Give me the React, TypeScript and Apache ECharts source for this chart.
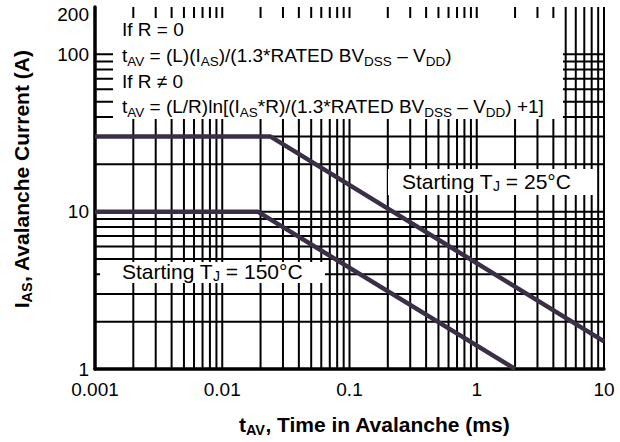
import React, { useEffect, useRef } from 'react';
import * as echarts from 'echarts';

// ---- data ----
const xTickLabels = ['0.001', '0.01', '0.1', '1', '10'];
const yTickLabels = ['1', '10', '100', '200'];

const xGridLines = [
  0.002, 0.003, 0.004, 0.005, 0.006, 0.007, 0.008, 0.009,
  0.01, 0.02, 0.03, 0.04, 0.05, 0.06, 0.07, 0.08, 0.09,
  0.1, 0.2, 0.3, 0.4, 0.5, 0.6, 0.7, 0.8, 0.9,
  1, 2, 3, 4, 5, 6, 7, 8, 9, 10,
];
const yGridLines = [2, 3, 4, 5, 6, 7, 8, 9, 10, 20, 30, 40, 50, 60, 70, 80, 90, 100];

const tj25Time = [0.001, 0.024, 10];
const tj25Current = [30, 30, 1.5];
const tj150Time = [0.001, 0.019, 2];
const tj150Current = [10, 10, 1];

const X_MIN = 0.001;
const X_MAX = 10;
const Y_MIN = 1;
const Y_MAX = 200;

const FONT = '"Liberation Sans", Arial, Helvetica, sans-serif';
const CURVE = '#3b2e47';

const fmt = (v: number) => String(parseFloat(Number(v).toPrecision(3)));

function richStyles(main: number, sub: number, lh: number, bold = false) {
  const w = bold ? 'bold' : 'normal';
  return {
    n: { fontSize: main, fontFamily: FONT, fontWeight: w, color: '#000', verticalAlign: 'top', lineHeight: lh },
    s: { fontSize: sub, fontFamily: FONT, fontWeight: w, color: '#000', verticalAlign: 'bottom', lineHeight: lh },
  };
}

export default function App() {
  const ref = useRef<HTMLDivElement>(null);

  useEffect(() => {
    if (!ref.current) return;
    const chart = echarts.init(ref.current, undefined, { renderer: 'svg' });

    const boxText = (text: string, x: number, y: number) => ({
      type: 'text',
      x,
      y,
      z: 6,
      silent: true,
      style: {
        text,
        verticalAlign: 'top',
        align: 'left',
        rich: richStyles(19, 13.5, 22.5),
      },
    });
    const labelText = (text: string, x: number, y: number) => ({
      type: 'text',
      x,
      y,
      z: 6,
      silent: true,
      style: {
        text,
        verticalAlign: 'top',
        align: 'left',
        rich: richStyles(21, 14, 22.5),
      },
    });
    const whiteRect = (x: number, y: number, w: number, h: number) => ({
      type: 'rect',
      z: 3,
      silent: true,
      shape: { x, y, width: w, height: h },
      style: { fill: '#fff' },
    });

    chart.setOption({
      animation: false,
      grid: { left: 95, right: 16, top: 7, bottom: 72, containLabel: false },
      xAxis: {
        type: 'log',
        logBase: 10,
        min: X_MIN,
        max: X_MAX,
        axisLine: { show: true, lineStyle: { color: '#000', width: 3.5 } },
        axisTick: { show: false },
        splitLine: { show: false },
        minorSplitLine: { show: false },
        axisLabel: {
          fontSize: 19,
          fontFamily: FONT,
          color: '#000',
          margin: 11,
          formatter: (v: number) => {
            const s = fmt(v);
            return xTickLabels.includes(s) ? s : '';
          },
        },
        name: '{n|t}{s|AV}{n|, Time in Avalanche (ms)}',
        nameLocation: 'middle',
        nameGap: 45,
        nameTextStyle: {
          padding: [0, 0, 0, 50],
          rich: richStyles(21, 14.5, 23, true),
        },
      },
      yAxis: {
        type: 'log',
        logBase: 10,
        min: Y_MIN,
        max: Y_MAX,
        axisLine: { show: true, lineStyle: { color: '#000', width: 3.5 } },
        axisTick: { show: false },
        splitLine: { show: false },
        axisLabel: {
          fontSize: 19,
          fontFamily: FONT,
          color: '#000',
          margin: 6,
          formatter: (v: number) => {
            const s = fmt(v);
            if (!yTickLabels.includes(s)) return '';
            return s === '200' ? `{top|${s}}` : s;
          },
          rich: {
            top: { fontSize: 19, fontFamily: FONT, color: '#000', padding: [14, 0, 0, 0] },
          },
        },
        name: '{n|I}{s|AS}{n|, Avalanche Current (A)}',
        nameLocation: 'middle',
        nameGap: 61,
        nameTextStyle: {
          padding: [0, 0, 0, 18],
          rich: richStyles(21, 14.5, 23, true),
        },
      },
      series: [
        {
          type: 'custom',
          name: 'vgrid',
          silent: true,
          z: 1,
          data: xGridLines.map((v) => [v, Y_MIN]),
          renderItem: (params: any, api: any) => {
            const x = api.value(0);
            const p1 = api.coord([x, Y_MIN]);
            const p2 = api.coord([x, Y_MAX]);
            return {
              type: 'line',
              shape: { x1: p1[0], y1: p1[1], x2: p2[0], y2: p2[1] },
              style: { stroke: '#000', lineWidth: 2 },
            };
          },
        },
        {
          type: 'custom',
          name: 'hgrid',
          silent: true,
          z: 1,
          data: yGridLines.map((v) => [X_MIN, v]),
          renderItem: (params: any, api: any) => {
            const y = api.value(1);
            const p1 = api.coord([X_MIN, y]);
            const p2 = api.coord([X_MAX, y]);
            return {
              type: 'line',
              shape: { x1: p1[0], y1: p1[1], x2: p2[0], y2: p2[1] },
              style: { stroke: '#000', lineWidth: 2 },
            };
          },
        },
        {
          type: 'line',
          name: 'Starting TJ = 25°C',
          silent: true,
          z: 4,
          symbol: 'none',
          data: tj25Time.map((t, i) => [t, tj25Current[i]]),
          lineStyle: { color: CURVE, width: 4.5 },
        },
        {
          type: 'line',
          name: 'Starting TJ = 150°C',
          silent: true,
          z: 4,
          symbol: 'none',
          data: tj150Time.map((t, i) => [t, tj150Current[i]]),
          lineStyle: { color: CURVE, width: 4.5 },
        },
      ],
      graphic: [
        whiteRect(113, 18, 450, 101),
        boxText('{n|If R = 0}', 122, 20),
        boxText('{n|t}{s|AV}{n| = (L)(I}{s|AS}{n|)/(1.3*RATED BV}{s|DSS}{n| – V}{s|DD}{n|)}', 122, 46),
        boxText('{n|If R ≠ 0}', 122, 72),
        boxText('{n|t}{s|AV}{n| = (L/R)ln[(I}{s|AS}{n|*R)/(1.3*RATED BV}{s|DSS}{n| – V}{s|DD}{n|) +1]}', 122, 97),
        whiteRect(388, 169, 206, 26),
        labelText('{n|Starting T}{s|J}{n| = 25°C}', 402, 170.5),
        whiteRect(100, 262, 225, 21),
        labelText('{n|Starting T}{s|J}{n| = 150°C}', 122, 260.5),
      ],
    });

    return () => chart.dispose();
  }, []);

  return (
    <div
      ref={ref}
      style={{ position: 'fixed', left: 0, top: 0, width: 620, height: 442, background: '#fff' }}
    />
  );
}
